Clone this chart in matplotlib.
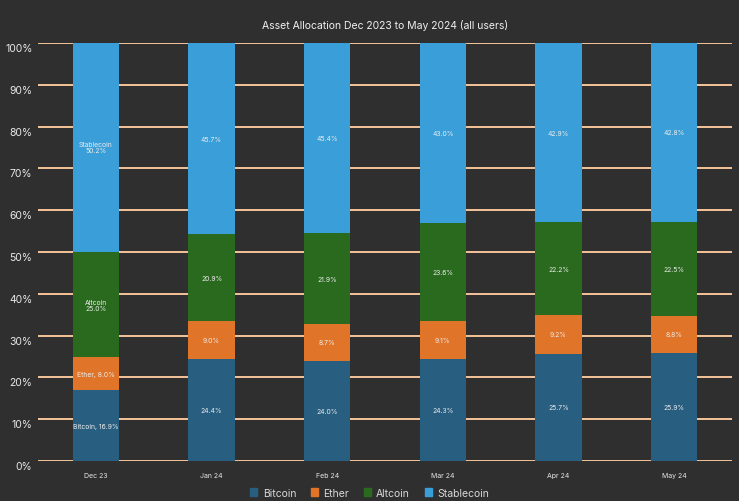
import matplotlib.pyplot as plt
import numpy as np
from matplotlib.patches import Patch
from matplotlib.transforms import ScaledTranslation

plt.rcParams['font.family'] = ['Inter', 'DejaVu Sans']

months = ['Dec 23', 'Jan 24', 'Feb 24', 'Mar 24', 'Apr 24', 'May 24']
assets = ['Bitcoin', 'Ether', 'Altcoin', 'Stablecoin']
bitcoin = [16.9, 24.4, 24.0, 24.3, 25.7, 25.9]
ether = [8.0, 9.0, 8.7, 9.1, 9.2, 8.8]
altcoin = [25.0, 20.9, 21.9, 23.6, 22.2, 22.5]
stablecoin = [50.2, 45.7, 45.4, 43.0, 42.9, 42.8]
colors = ['#285e80', '#e07428', '#2a6a1e', '#3a9fd8']

bg = '#2f2f2f'
fig = plt.figure(figsize=(7.39, 5.02), dpi=100, facecolor=bg)
ax = fig.add_axes([38/739, 40/502, 694/739, 418/502])
ax.set_facecolor(bg)

x = np.arange(len(months))
bottom = np.zeros(len(months))
series = [bitcoin, ether, altcoin, stablecoin]
for name, vals, col in zip(assets, series, colors):
    vals = np.array(vals)
    ax.bar(x, vals, 0.4, bottom=bottom, color=col, zorder=3)
    for i, v in enumerate(vals):
        if i == 0:
            if name in ('Bitcoin', 'Ether'):
                txt = '%s, %.1f%%' % (name, v)
            else:
                txt = '%s\n%.1f%%' % (name, v)
        else:
            txt = '%.1f%%' % v
        ax.text(x[i], bottom[i] + v / 2, txt, ha='center', va='center',
                color='#ececec', fontsize=4.9, zorder=4, linespacing=1.0)
    bottom = bottom + vals

ax.set_xlim(-0.5, len(months) - 0.5)
ax.set_ylim(0, 100)
ax.set_yticks(np.arange(0, 101, 10))
ax.set_yticklabels(['%d%%' % t for t in range(0, 101, 10)], color='#e8e8e8', fontsize=7.5)
ax.set_xticks(x)
ax.set_xticklabels(months, color='#e8e8e8', fontsize=5)
ax.tick_params(axis='both', length=0)
ax.tick_params(axis='x', pad=8)
ax.tick_params(axis='y', pad=4)
shift = ScaledTranslation(0, -4/100, fig.dpi_scale_trans)
for lbl in ax.get_yticklabels():
    lbl.set_transform(lbl.get_transform() + shift)
ax.grid(axis='y', color='#f5c598', linewidth=1.4, zorder=1)
for s in ax.spines.values():
    s.set_visible(False)

ax.set_title('Asset Allocation Dec 2023 to May 2024 (all users)', color='#f0f0f0',
             fontsize=7.5, pad=11)

handles = [Patch(color=c, label=a) for a, c in zip(assets, colors)]
fig.legend(handles=handles, loc='lower center', bbox_to_anchor=(0.5, -0.012), ncol=4,
           frameon=False, fontsize=7.5, labelcolor='#d8d8d8', handlelength=0.7,
           handleheight=0.7, handletextpad=0.5, columnspacing=1.4)

fig.savefig('out.png', facecolor=bg)
